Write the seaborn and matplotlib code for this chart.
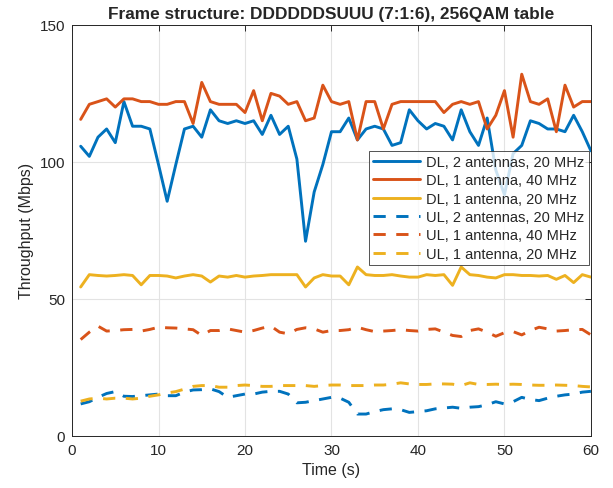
import numpy as np
import pandas as pd
import seaborn as sns
import matplotlib
matplotlib.use('Agg')
import matplotlib.pyplot as plt

time_s = list(range(1, 61))

dl_2ant_20 = [105.7, 102, 109, 112, 107, 122, 113, 113, 112, 99,
              85.6, 99, 112, 113, 109, 119, 115, 114, 115, 114,
              115, 110, 117, 110, 113, 101, 71, 89, 99, 111,
              111, 116, 108, 112, 113, 112, 106, 107, 119, 115,
              112, 114, 113, 108, 119, 111, 106, 116, 97, 88,
              103, 106, 115, 114, 112, 112, 111, 117, 111, 104]
dl_1ant_40 = [115.5, 121, 122, 123, 120, 123, 123, 122, 122, 121,
              121, 122, 122, 114, 129, 122, 121, 121, 121, 118,
              126, 115, 125, 124, 121, 122, 115, 116, 128, 122,
              121, 122, 108, 122, 122, 112, 121, 122, 122, 122,
              122, 122, 118, 121, 122, 121, 122, 112, 117, 126,
              109, 132, 122, 121, 123, 111, 128, 120, 122, 122]
dl_1ant_20 = [54.3, 58.8, 58.5, 58.3, 58.5, 58.8, 58.5, 55.1, 58.5, 58.5,
              58.3, 57.6, 58.3, 58.8, 58.3, 56.1, 58.3, 57.9, 58.5, 57.9,
              58.3, 58.5, 58.8, 58.8, 58.8, 58.8, 54.3, 57.6, 58.8, 58.3,
              58.3, 55.1, 61.6, 58.8, 58.5, 58.5, 58.8, 58.3, 57.9, 57.9,
              58.8, 58.5, 58.8, 54.9, 61.6, 58.8, 58.5, 57.9, 57.6, 58.8,
              58.8, 58.5, 58.5, 58.3, 58.5, 57.1, 58.5, 55.9, 58.8, 57.9]
ul_2ant_20 = [11.6, 12.4, 14, 15.4, 16.1, 14.4, 14.3, 14.6, 14.9, 15.2,
              14.6, 14.6, 15.9, 16.7, 16.8, 17.1, 16.1, 14, 14.6, 15.2,
              15.2, 15.9, 16.2, 16.2, 15.2, 12, 12.2, 12.8, 13.4, 14,
              13.7, 12.2, 7.9, 7.9, 8.8, 9.5, 9.8, 9.5, 8.5, 8.8,
              9.1, 9.8, 10.1, 10.4, 10, 10.4, 10.6, 11.3, 12.4, 11.6,
              12.4, 14, 13.2, 12.8, 13.7, 14.4, 14.9, 15.2, 15.9, 16.2]
ul_1ant_40 = [35.1, 37.8, 40, 38.2, 38.4, 38.7, 38.8, 38.2, 38.8, 39.6,
              39.4, 39.3, 39, 38.7, 36.6, 38.4, 38.4, 39, 38.4, 37.8,
              38.4, 39.3, 40, 37.8, 37.2, 38.8, 39.4, 39, 37.8, 38.4,
              38.4, 38.7, 39.6, 38.7, 38, 38.2, 38.4, 38.7, 38.4, 38.2,
              38.8, 39, 37.8, 36.6, 36.2, 38.4, 39, 37.8, 36.3, 37.6,
              38, 36.8, 38.4, 39.6, 39, 38.2, 38.4, 38.7, 38.8, 36.8]
ul_1ant_20 = [12.6, 13.4, 13.7, 13.4, 13.7, 13.7, 13.4, 13.7, 14.4, 14.9,
              15.6, 16.1, 17, 18, 18.3, 18.3, 17.7, 17.7, 18.3, 18.5,
              18.3, 18, 18, 18.3, 18.3, 18.3, 18.3, 18, 18.3, 18.5,
              18.5, 18.3, 18.3, 18.3, 18.5, 18.5, 18.8, 19.3, 18.9, 18.7,
              18.7, 18.9, 18.9, 18.8, 18.3, 19.3, 18.7, 18.7, 18.8, 18.7,
              18.8, 18.7, 18.5, 18.4, 18.4, 18.5, 18.4, 18.3, 18, 17.8]

series_names = ['DL, 2 antennas, 20 MHz', 'DL, 1 antenna, 40 MHz', 'DL, 1 antenna, 20 MHz',
                'UL, 2 antennas, 20 MHz', 'UL, 1 antenna, 40 MHz', 'UL, 1 antenna, 20 MHz']
series_vals = [dl_2ant_20, dl_1ant_40, dl_1ant_20, ul_2ant_20, ul_1ant_40, ul_1ant_20]
colors = ['#0072BD', '#D95319', '#EDB120', '#0072BD', '#D95319', '#EDB120']
styles = ['-', '-', '-', '--', '--', '--']

sns.set_style('white')
plt.rcParams['font.family'] = ['Liberation Sans', 'DejaVu Sans']
plt.rcParams['lines.dashed_pattern'] = [4.2, 3.6]

fig = plt.figure(figsize=(6.13, 4.89), dpi=100)
ax = fig.add_axes([0.1175, 0.107, 0.8465, 0.840])

for name, vals, col, ls in zip(series_names, series_vals, colors, styles):
    df = pd.DataFrame({'t': time_s, 'v': vals})
    sns.lineplot(data=df, x='t', y='v', ax=ax, color=col, linestyle=ls,
                 linewidth=2.1, label=name)

ax.set_xlim(0, 60)
ax.set_ylim(0, 150)
ax.set_xticks([0, 10, 20, 30, 40, 50, 60])
ax.set_yticks([0, 50, 100, 150])
ax.grid(True, color='#e3e3e3', linewidth=0.8)
ax.set_axisbelow(True)
for s in ax.spines.values():
    s.set_color('#262626')
    s.set_linewidth(0.7)
ax.tick_params(direction='in', length=4, width=0.7, colors='#262626',
               labelsize=11, top=True, right=True, pad=5)

ax.set_xlabel('Time (s)', fontsize=11.5, color='#262626')
ax.set_ylabel('Throughput (Mbps)', fontsize=11.5, color='#262626')
ax.set_title('Frame structure: DDDDDDSUUU (7:1:6), 256QAM table',
             fontsize=12.4, fontweight='bold', pad=5)

leg = ax.legend(loc='upper right', bbox_to_anchor=(0.996, 0.694), borderaxespad=0,
                fontsize=10.5, frameon=True, fancybox=False, framealpha=0.8,
                edgecolor='#262626', handlelength=3.2, handletextpad=0.45,
                labelspacing=0.3, borderpad=0.3)
leg.get_frame().set_linewidth(0.7)

fig.savefig('out.png', dpi=100)
